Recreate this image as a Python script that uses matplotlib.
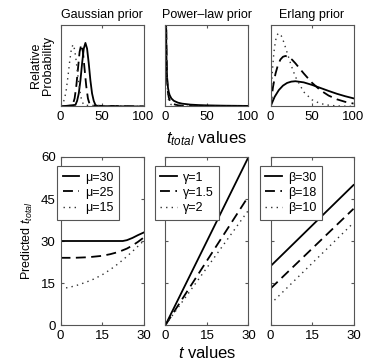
import matplotlib
matplotlib.use('Agg')
import matplotlib.pyplot as plt

plt.rcParams['font.family'] = ['Liberation Sans', 'DejaVu Sans']
plt.rcParams['mathtext.fontset'] = 'custom'
plt.rcParams['mathtext.rm'] = 'Liberation Sans'
plt.rcParams['mathtext.it'] = 'Liberation Sans:italic'

# ---- top row: priors ----
titles = ['Gaussian prior', 'Power\u2013law prior', 'Erlang prior']

gauss_x_30 = [0, 18, 20, 22, 24, 26, 28, 30, 32, 34, 36, 38, 40, 42, 44, 100]
gauss_y_30 = [0, 0.02, 0.07, 0.16, 0.32, 0.53, 0.71, 0.78, 0.71, 0.53, 0.32, 0.16, 0.07, 0.02, 0.005, 0]
gauss_x_25 = [0, 13, 15, 17, 19, 21, 23, 25, 27, 29, 31, 33, 35, 37, 100]
gauss_y_25 = [0, 0.01, 0.03, 0.10, 0.25, 0.46, 0.67, 0.76, 0.67, 0.46, 0.25, 0.10, 0.03, 0.01, 0]
gauss_x_15 = [0, 1, 3, 5, 7, 9, 11, 13, 15, 17, 19, 21, 23, 25, 27, 29, 100]
gauss_y_15 = [0.01, 0.015, 0.04, 0.10, 0.21, 0.37, 0.55, 0.70, 0.76, 0.70, 0.55, 0.37, 0.21, 0.10, 0.04, 0.015, 0]

pow_x = [0.6, 1, 1.5, 2, 3, 4, 5, 7, 10, 15, 20, 30, 40, 50, 70, 100]
pow_y_1 = [1.17, 0.7, 0.47, 0.35, 0.23, 0.175, 0.14, 0.10, 0.07, 0.047, 0.035, 0.023, 0.0175, 0.014, 0.01, 0.007]
pow_y_15 = [1.94, 0.9, 0.49, 0.32, 0.17, 0.11, 0.08, 0.049, 0.028, 0.015, 0.010, 0.0055, 0.0036, 0.0025, 0.0015, 0.0009]
pow_y_2 = [3.0, 1.1, 0.49, 0.275, 0.12, 0.069, 0.044, 0.022, 0.011, 0.005, 0.003, 0.0012, 0.0007, 0.0004, 0.0002, 0.0001]

erl_x_30 = [0, 5, 10, 15, 20, 25, 30, 40, 50, 60, 70, 80, 90, 100]
erl_y_30 = [0, 0.119, 0.201, 0.256, 0.289, 0.305, 0.31, 0.296, 0.265, 0.228, 0.191, 0.156, 0.126, 0.10]
erl_x_18 = [0, 3, 6, 9, 12, 15, 18, 22, 26, 30, 40, 50, 60, 70, 80, 90, 100]
erl_y_18 = [0, 0.238, 0.402, 0.511, 0.577, 0.61, 0.62, 0.607, 0.574, 0.53, 0.406, 0.291, 0.20, 0.134, 0.088, 0.057, 0.036]
erl_x_10 = [0, 2, 4, 6, 8, 10, 13, 16, 20, 25, 30, 40, 50, 60, 70, 80, 100]
erl_y_10 = [0, 0.40, 0.656, 0.806, 0.88, 0.9, 0.867, 0.79, 0.662, 0.502, 0.365, 0.179, 0.082, 0.036, 0.016, 0.007, 0.001]

# ---- bottom row: predictions ----
gp_t_30 = [0, 22.5, 24, 26, 28, 30]
gp_y_30 = [30, 30, 30.3, 31.1, 32.1, 33]
gp_t_25 = [0, 5, 10, 15, 18, 21, 24, 26, 28, 30]
gp_y_25 = [24, 24, 24.2, 24.7, 25.3, 26.1, 27.3, 28.4, 29.7, 31.2]
gp_t_15 = [0, 3, 6, 9, 12, 15, 18, 21, 24, 27, 30]
gp_y_15 = [13, 13.4, 14.2, 15.2, 16.4, 17.9, 19.8, 22, 24.5, 27.2, 30]

pp_t = [0, 30]
pp_y_1 = [0, 60]
pp_y_15 = [0, 46]
pp_y_2 = [0, 41]

ep_t = [0, 30]
ep_y_30 = [21, 50]
ep_y_18 = [13, 41.5]
ep_y_10 = [7.5, 36.5]

gauss_labels = ['\u03bc=30', '\u03bc=25', '\u03bc=15']
pow_labels = ['\u03b3=1', '\u03b3=1.5', '\u03b3=2']
erl_labels = ['\u03b2=30', '\u03b2=18', '\u03b2=10']

styles = [dict(ls='-', lw=1.3, color='black'),
          dict(ls=(0, (5.5, 3)), lw=1.3, color='black'),
          dict(ls=(0, (1, 3)), lw=1.0, color='#333333')]
spine_col = '#555555'

fig = plt.figure(figsize=(3.65, 3.61), dpi=100)

lefts = [0.1658, 0.4534, 0.7411]
w = 0.2274
top_axes = [fig.add_axes([l, 0.705, w, 0.2258]) for l in lefts]
bot_axes = [fig.add_axes([l, 0.0997, w, 0.4654]) for l in lefts]

top_data = [
    [(gauss_x_30, gauss_y_30), (gauss_x_25, gauss_y_25), (gauss_x_15, gauss_y_15)],
    [(pow_x, pow_y_1), (pow_x, pow_y_15), (pow_x, pow_y_2)],
    [(erl_x_30, erl_y_30), (erl_x_18, erl_y_18), (erl_x_10, erl_y_10)],
]
bot_data = [
    [(gp_t_30, gp_y_30), (gp_t_25, gp_y_25), (gp_t_15, gp_y_15)],
    [(pp_t, pp_y_1), (pp_t, pp_y_15), (pp_t, pp_y_2)],
    [(ep_t, ep_y_30), (ep_t, ep_y_18), (ep_t, ep_y_10)],
]
leg_labels = [gauss_labels, pow_labels, erl_labels]
leg_x = [-0.04, -0.13, -0.13]

for i, ax in enumerate(top_axes):
    for (x, y), st in zip(top_data[i], styles):
        ax.plot(x, y, **st)
    ax.set_xlim(0, 100)
    ax.set_ylim(0, 1)
    ax.set_xticks([0, 50, 100])
    ax.set_yticks([])
    ax.set_title(titles[i], fontsize=9, pad=5)
    ax.tick_params(axis='x', direction='in', length=2.5, labelsize=9.5, top=True, color=spine_col)
    for s in ax.spines.values():
        s.set_color(spine_col)
        s.set_linewidth(0.8)

top_axes[0].set_ylabel('Relative\nProbability', fontsize=9, linespacing=1.0)
top_axes[0].yaxis.set_label_coords(-0.08, 0.5)
top_axes[1].set_xlabel('$t_{total}$ values', fontsize=12, labelpad=4)

for i, ax in enumerate(bot_axes):
    for (x, y), st, lab in zip(bot_data[i], styles, leg_labels[i]):
        ax.plot(x, y, label=lab, **st)
    ax.set_xlim(0, 30)
    ax.set_ylim(0, 60)
    ax.set_xticks([0, 15, 30])
    ax.set_yticks([0, 15, 30, 45, 60])
    ax.tick_params(direction='in', length=2.5, labelsize=9.5, top=True, right=True, color=spine_col)
    if i > 0:
        ax.set_yticklabels([])
    for s in ax.spines.values():
        s.set_color(spine_col)
        s.set_linewidth(0.8)
    leg = ax.legend(loc='upper left', bbox_to_anchor=(leg_x[i], 0.946), borderaxespad=0,
                    fontsize=9, fancybox=False, framealpha=1, edgecolor=spine_col,
                    handlelength=1.3, handletextpad=0.5, labelspacing=0.25, borderpad=0.45)
    leg.get_frame().set_linewidth(0.8)

bot_axes[0].set_ylabel('Predicted $t_{total}$', fontsize=9)
bot_axes[1].set_xlabel('$t$ values', fontsize=12, labelpad=2)

fig.savefig('out.png', dpi=100)
